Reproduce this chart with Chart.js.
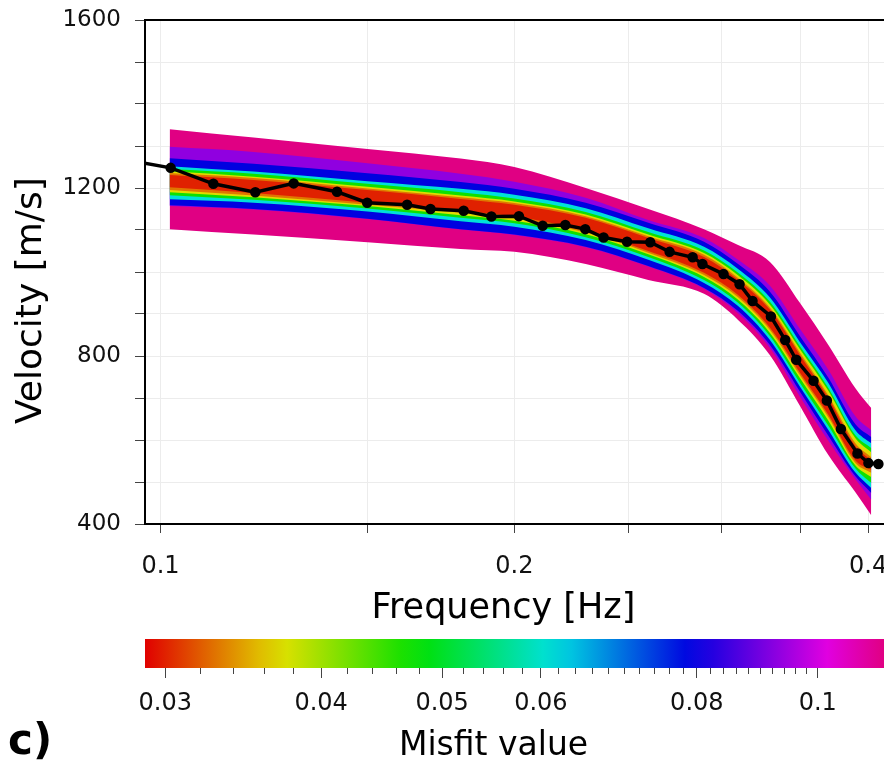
<!DOCTYPE html>
<html>
<head>
<meta charset="utf-8">
<script src="https://cdn.jsdelivr.net/npm/chart.js@4.4.1/dist/chart.umd.min.js"></script>
<style>
    body { margin: 0; background: #fff; width: 884px; height: 766px; overflow: hidden; position: relative; }
    #main { position: absolute; left: 0; top: 0; }
    #bar { position: absolute; left: 0; top: 630px; }
    #panel { position: absolute; left: 8px; top: 719px; font: bold 42px 'DejaVu Sans', sans-serif; line-height: 1; color: #000; }
</style>
</head>
<body>
<canvas id="main" width="884" height="632"></canvas>
<canvas id="bar" width="884" height="136"></canvas>
<div id="panel">c)</div>
<script>
// picked dispersion curve (black line)
const pickFreq = [0.0935, 0.102, 0.1109, 0.1204, 0.1298, 0.1413, 0.1499, 0.1621, 0.1697, 0.1811, 0.1912, 0.2018,
    0.2114, 0.221, 0.2298, 0.2382, 0.2494, 0.261, 0.2711, 0.2836, 0.2891, 0.3013, 0.3109, 0.3189, 0.3306,
    0.340, 0.3474, 0.3594, 0.3689, 0.3792, 0.3917, 0.4002, 0.4081];
const pickVel = [1267, 1248, 1210, 1190, 1211, 1191, 1165, 1160, 1150, 1146, 1132, 1133,
    1110, 1112, 1102, 1082, 1072, 1071, 1048, 1035, 1019, 995, 971, 931, 894,
    838, 791, 741, 694, 626, 568, 545, 543];

// frequencies where the misfit band edges were read
const bandFreq = [0.1018, 0.12, 0.15, 0.18, 0.2, 0.23, 0.26, 0.29, 0.31, 0.33, 0.35, 0.37, 0.39, 0.4024];

// misfit of each colour level, worst first
const levelMisfit = [0.113, 0.093, 0.079, 0.061, 0.047, 0.037, 0.033, 0.03];

// upper and lower velocity edge of each level [m/s]
const pinkTop      = [1340, 1320, 1293, 1270, 1250, 1200, 1150, 1102, 1064, 1024, 926, 826, 724, 676];
const pinkBottom   = [1102, 1089, 1071, 1055, 1048, 1019, 981, 948, 886, 802, 681, 564, 476, 421];
const purpleTop    = [1298, 1286, 1259, 1234, 1215, 1177, 1124, 1081, 1029, 967, 864, 767, 657, 623];
const purpleBottom = [1157, 1149, 1126, 1101, 1088, 1059, 1013, 960, 902, 819, 703, 598, 507, 458];
const blueTop      = [1271, 1258, 1235, 1214, 1198, 1165, 1117, 1072, 1019, 953, 847, 748, 638, 607];
const blueBottom   = [1159, 1150, 1127, 1102, 1089, 1060, 1014, 962, 907, 826, 715, 610, 514, 474];
const cyanTop      = [1252, 1239, 1216, 1198, 1184, 1152, 1104, 1060, 1007, 939, 833, 736, 624, 592];
const cyanBottom   = [1173, 1165, 1144, 1121, 1108, 1076, 1029, 974, 919, 838, 727, 624, 523, 486];
const greenTop     = [1245, 1234, 1210, 1190, 1175, 1143, 1095, 1051, 998, 929, 823, 724, 612, 581];
const greenBottom  = [1183, 1172, 1151, 1129, 1116, 1083, 1036, 981, 927, 847, 736, 634, 533, 498];
const yellowTop    = [1240, 1227, 1203, 1182, 1168, 1137, 1089, 1045, 992, 922, 816, 717, 605, 571];
const yellowBottom = [1190, 1178, 1157, 1135, 1122, 1090, 1042, 988, 934, 855, 747, 646, 540, 512];
const orangeTop    = [1236, 1224, 1199, 1178, 1164, 1133, 1085, 1041, 986, 915, 808, 706, 593, 559];
const orangeBottom = [1195, 1182, 1160, 1141, 1128, 1094, 1046, 993, 940, 862, 754, 654, 546, 522];
const redTop       = [1231, 1219, 1195, 1174, 1160, 1129, 1081, 1036, 981, 910, 802, 700, 586, 552];
const redBottom    = [1202, 1188, 1165, 1145, 1132, 1098, 1050, 998, 945, 867, 760, 660, 552, 529];

// axis ticks
const freqTicks = [0.1, 0.15, 0.2, 0.25, 0.3, 0.35, 0.4];
const freqLabels = [0.1, 0.2, 0.4];
const misfitLabels = [0.03, 0.04, 0.05, 0.06, 0.08, 0.1];

// colour scale limits
const misfitMin = 0.0289;
const misfitMax = 0.113;

const FONT = "'DejaVu Sans', sans-serif";
Chart.defaults.font.family = FONT;
Chart.defaults.color = '#000';

/**
 * Rainbow colour map, hue runs linearly with log(misfit)
 */
function misfitColour(m) {
    let t = Math.log(m / misfitMin) / Math.log(misfitMax / misfitMin);
    t = Math.max(0, Math.min(1, t));
    return 'hsl(' + (t * 325).toFixed(1) + ', 100%, 44%)';
}

function toPoints(xs, ys) {
    return xs.map((x, i) => ({ x: x, y: ys[i] }));
}

// keep the plot box where it is, labels may hang over the edges
function noSidePadding(s) {
    s.paddingLeft = 0;
    s.paddingRight = 0;
}

const levelTops = [pinkTop, purpleTop, blueTop, cyanTop, greenTop, yellowTop, orangeTop, redTop];
const levelBottoms = [pinkBottom, purpleBottom, blueBottom, cyanBottom, greenBottom, yellowBottom, orangeBottom, redBottom];

// black line first so it is drawn on top, then best level down to worst
const datasets = [{
    data: toPoints(pickFreq, pickVel),
    borderColor: '#000',
    backgroundColor: '#000',
    borderWidth: 3.5,
    pointRadius: 3.5,
    pointBackgroundColor: '#000',
    fill: false
}];
for (let i = levelMisfit.length - 1; i >= 0; i--) {
    const col = misfitColour(levelMisfit[i]);
    datasets.push({
        data: toPoints(bandFreq, levelTops[i]),
        fill: '+1',
        backgroundColor: col,
        borderColor: 'rgba(0,0,0,0)',
        borderWidth: 0,
        pointRadius: 0,
        cubicInterpolationMode: 'monotone'
    });
    datasets.push({
        data: toPoints(bandFreq, levelBottoms[i]),
        fill: false,
        borderColor: 'rgba(0,0,0,0)',
        borderWidth: 0,
        pointRadius: 0,
        cubicInterpolationMode: 'monotone'
    });
}

new Chart(document.getElementById('main'), {
    type: 'line',
    data: { datasets: datasets },
    options: {
        responsive: false,
        animation: false,
        layout: { autoPadding: false, padding: { top: 20, right: 0, left: 0, bottom: 0 } },
        plugins: { legend: { display: false }, tooltip: { enabled: false } },
        scales: {
            x: {
                type: 'logarithmic',
                min: 0.097,
                max: 0.4126,
                position: 'bottom',
                afterBuildTicks: s => { s.ticks = freqTicks.map(v => ({ value: v })); },
                afterFit: s => { s.height = 108; noSidePadding(s); },
                ticks: {
                    autoSkip: false,
                    maxRotation: 0,
                    padding: 19,
                    color: '#111',
                    font: { size: 24 },
                    callback: v => freqLabels.includes(v) ? String(v) : ''
                },
                grid: { color: '#ececec', tickColor: '#444', tickLength: 9 },
                border: { color: '#000', width: 2 },
                title: {
                    display: true,
                    text: 'Frequency [Hz]\u00a0\u00a0',
                    font: { size: 35 },
                    padding: { top: 0, bottom: 2 }
                }
            },
            top: {
                type: 'linear',
                position: 'top',
                min: 0,
                max: 1,
                afterFit: s => { s.height = 0; noSidePadding(s); },
                ticks: { display: false },
                grid: { display: false, drawTicks: false },
                border: { display: true, color: '#000', width: 2 }
            },
            y: {
                type: 'linear',
                min: 400,
                max: 1600,
                afterFit: s => { s.width = 145; s.paddingTop = 0; s.paddingBottom = 0; },
                ticks: {
                    stepSize: 100,
                    autoSkip: false,
                    padding: 14,
                    color: '#111',
                    font: { size: 23 },
                    callback: v => v % 400 === 0 ? String(v) : ''
                },
                grid: { color: '#ececec', tickColor: '#444', tickLength: 10 },
                border: { color: '#000', width: 2 },
                title: {
                    display: true,
                    text: 'Velocity [m/s]\u00a0\u00a0\u00a0\u00a0\u00a0',
                    font: { size: 36 },
                    padding: { top: 10, bottom: 0 }
                }
            }
        }
    }
});

// colour bar
new Chart(document.getElementById('bar'), {
    type: 'bar',
    data: {
        labels: ['misfit'],
        datasets: [{
            data: [[misfitMin, misfitMax]],
            borderWidth: 0,
            barPercentage: 1,
            categoryPercentage: 1,
            backgroundColor: function(ctx) {
                const chart = ctx.chart;
                const area = chart.chartArea;
                if (!area) return '#e00000';
                const xs = chart.scales.x;
                const g = chart.ctx.createLinearGradient(area.left, 0, area.right, 0);
                const span = Math.log(misfitMax / misfitMin);
                for (let k = 0; k <= 26; k++) {
                    const m = misfitMin * Math.exp(span * k / 26);
                    const px = xs.getPixelForValue(m);
                    const stop = Math.max(0, Math.min(1, (px - area.left) / (area.right - area.left)));
                    g.addColorStop(stop, misfitColour(m));
                }
                return g;
            }
        }]
    },
    options: {
        indexAxis: 'y',
        responsive: false,
        animation: false,
        layout: { autoPadding: false, padding: { left: 145, top: 9, right: 0, bottom: 0 } },
        plugins: { legend: { display: false }, tooltip: { enabled: false } },
        scales: {
            x: {
                type: 'logarithmic',
                min: misfitMin,
                max: misfitMax,
                position: 'bottom',
                afterBuildTicks: s => {
                    const t = [];
                    for (let k = 30; k <= 100; k += 2) t.push({ value: k / 1000 });
                    s.ticks = t;
                },
                afterFit: s => { s.height = 98; noSidePadding(s); },
                ticks: {
                    autoSkip: false,
                    maxRotation: 0,
                    padding: 11,
                    color: '#111',
                    font: { size: 24 },
                    callback: v => misfitLabels.includes(v) ? String(v) : ''
                },
                grid: {
                    drawOnChartArea: false,
                    tickLength: 10,
                    tickColor: '#444',
                    tickBorderDash: c => (c.tick && misfitLabels.includes(c.tick.value)) ? [] : [6, 30]
                },
                border: { display: false },
                title: {
                    display: true,
                    text: 'Misfit value\u00a0\u00a0\u00a0\u00a0',
                    font: { size: 33 },
                    padding: { top: 0, bottom: 0 }
                }
            },
            y: { display: false }
        }
    }
});
</script>
</body>
</html>
